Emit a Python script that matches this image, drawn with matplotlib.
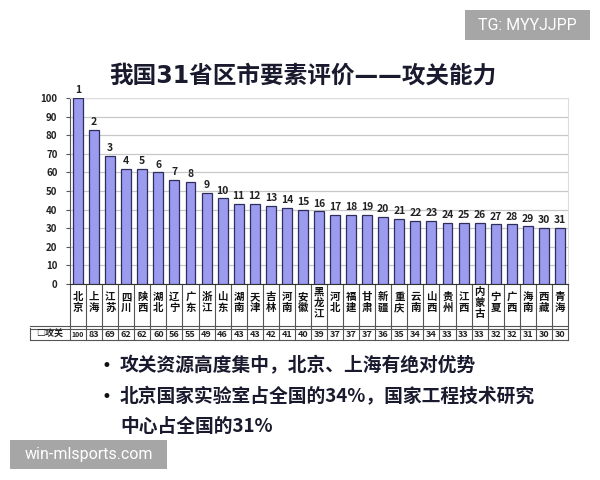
import matplotlib
matplotlib.use("Agg")
import matplotlib.pyplot as plt
from matplotlib.patches import Rectangle

plt.rcParams['font.family'] = ['Noto Sans CJK SC', 'DejaVu Sans']

provinces = ["北京", "上海", "江苏", "四川", "陕西", "湖北", "辽宁", "广东", "浙江", "山东",
             "湖南", "天津", "吉林", "河南", "安徽", "黑龙江", "河北", "福建", "甘肃", "新疆",
             "重庆", "云南", "山西", "贵州", "江西", "内蒙古", "宁夏", "广西", "海南", "西藏", "青海"]
values = [100, 83, 69, 62, 62, 60, 56, 55, 49, 46, 43, 43, 42, 41, 40, 39, 37, 37, 37, 36,
          35, 34, 34, 33, 33, 33, 32, 32, 31, 30, 30]
ranks = list(range(1, 32))
yticks = [0, 10, 20, 30, 40, 50, 60, 70, 80, 90, 100]
title = "我国31省区市要素评价——攻关能力"
series_name = "攻关"
bullets = ["攻关资源高度集中，北京、上海有绝对优势",
           "北京国家实验室占全国的34%，国家工程技术研究"]
bullet_cont = "中心占全国的31%"

W, H = 600, 480
fig = plt.figure(figsize=(6, 4.8), dpi=100)
fig.patch.set_facecolor("white")

def fx(px):
    return px / W

def fy(py):
    return 1 - py / H

ax_left, ax_right, ax_top, ax_bot = 70, 568, 98, 284
ax = fig.add_axes([fx(ax_left), fy(ax_bot), (ax_right - ax_left) / W, (ax_bot - ax_top) / H])
n = len(values)
x = list(range(n))
ax.bar(x, values, width=0.62, color="#9b9bef", edgecolor="#2e2e5a", linewidth=0.9, zorder=3)
ax.set_xlim(-0.5, n - 0.5)
ax.set_ylim(0, 100)
ax.set_yticks(yticks)
ax.set_yticklabels([str(t) for t in yticks], fontsize=7, fontweight="bold", color="#222222")
ax.set_xticks([])
ax.grid(axis="y", color="#c8c8c8", linewidth=0.9, zorder=0)
for s in ["top", "right"]:
    ax.spines[s].set_color("#dddddd")
ax.spines["left"].set_color("#555555")
ax.spines["bottom"].set_color("#333333")
ax.tick_params(axis="y", length=3, pad=6, color="#555555")

for xi, v, r in zip(x, values, ranks):
    ax.text(xi, v + 1.5, str(r), ha="center", va="bottom", fontsize=7.5, fontweight="bold",
            color="#222222", zorder=4)

# table under the axis
tr = ax.get_xaxis_transform()
def yf(py):
    return (ax_bot - py) / (ax_bot - ax_top)

slot = (ax_right - ax_left) / n
legend_left = -0.5 - (ax_left - 30) / slot
line_kw = dict(transform=tr, clip_on=False, color="#555555", linewidth=0.8)
for i in range(n + 1):
    xb = i - 0.5
    ax.plot([xb, xb], [yf(284), yf(340)], **line_kw)
ax.plot([legend_left, legend_left], [yf(328), yf(340)], **line_kw)
ax.plot([legend_left, n - 0.5], [yf(326), yf(326)], **line_kw)
ax.plot([legend_left, n - 0.5], [yf(328.5), yf(328.5)], **line_kw)
ax.plot([legend_left, n - 0.5], [yf(340), yf(340)], **line_kw)

for xi, name, v in zip(x, provinces, values):
    chars = list(name)
    nc = len(chars)
    start = 297 if nc == 2 else 292
    for k, ch in enumerate(chars):
        ax.text(xi, yf(start + k * 11), ch, transform=tr, ha="center", va="center",
                fontsize=7.5, fontweight="bold", color="#111111", clip_on=False)
    ax.text(xi, yf(334.5), str(v), transform=tr, ha="center", va="center",
            fontsize=5 if v >= 100 else 6.5, fontweight="bold", color="#222222", clip_on=False)

ax.text((legend_left + (-0.5)) / 2, yf(334.5), "□" + series_name, transform=tr, ha="center",
        va="center", fontsize=6.5, fontweight="bold", color="#222222", clip_on=False)

# title
fig.text(fx(303), fy(76), title, ha="center", va="center", fontsize=17, fontweight="bold",
         color="#1a1a2e", family=["DejaVu Sans", "Noto Sans CJK SC"])

# bullets
for yb, txt in [(366, bullets[0]), (397, bullets[1])]:
    fig.text(fx(101), fy(yb), "•", ha="left", va="center", fontsize=12, color="#111111",
             family="DejaVu Sans")
    fig.text(fx(120), fy(yb), txt, ha="left", va="center", fontsize=13.5, fontweight="bold",
             color="#1a1a2e")
fig.text(fx(120), fy(426), bullet_cont, ha="left", va="center", fontsize=13.5, fontweight="bold",
         color="#1a1a2e")

# watermarks
fig.patches.append(Rectangle((fx(465), fy(40)), 125 / W, 30 / H, transform=fig.transFigure,
                             facecolor="#a6a6a6", edgecolor="none", zorder=5))
fig.text(fx(527.5), fy(25), "TG: MYYJJPP", ha="center", va="center", fontsize=11.5,
         color="white", family="Roboto", zorder=6)
fig.patches.append(Rectangle((fx(10), fy(469)), 157 / W, 29 / H, transform=fig.transFigure,
                             facecolor="#a6a6a6", edgecolor="none", zorder=5))
fig.text(fx(88.5), fy(454.5), "win-mlsports.com", ha="center", va="center", fontsize=11.5,
         color="white", family="Roboto", zorder=6)

fig.savefig("out.png", dpi=100)
